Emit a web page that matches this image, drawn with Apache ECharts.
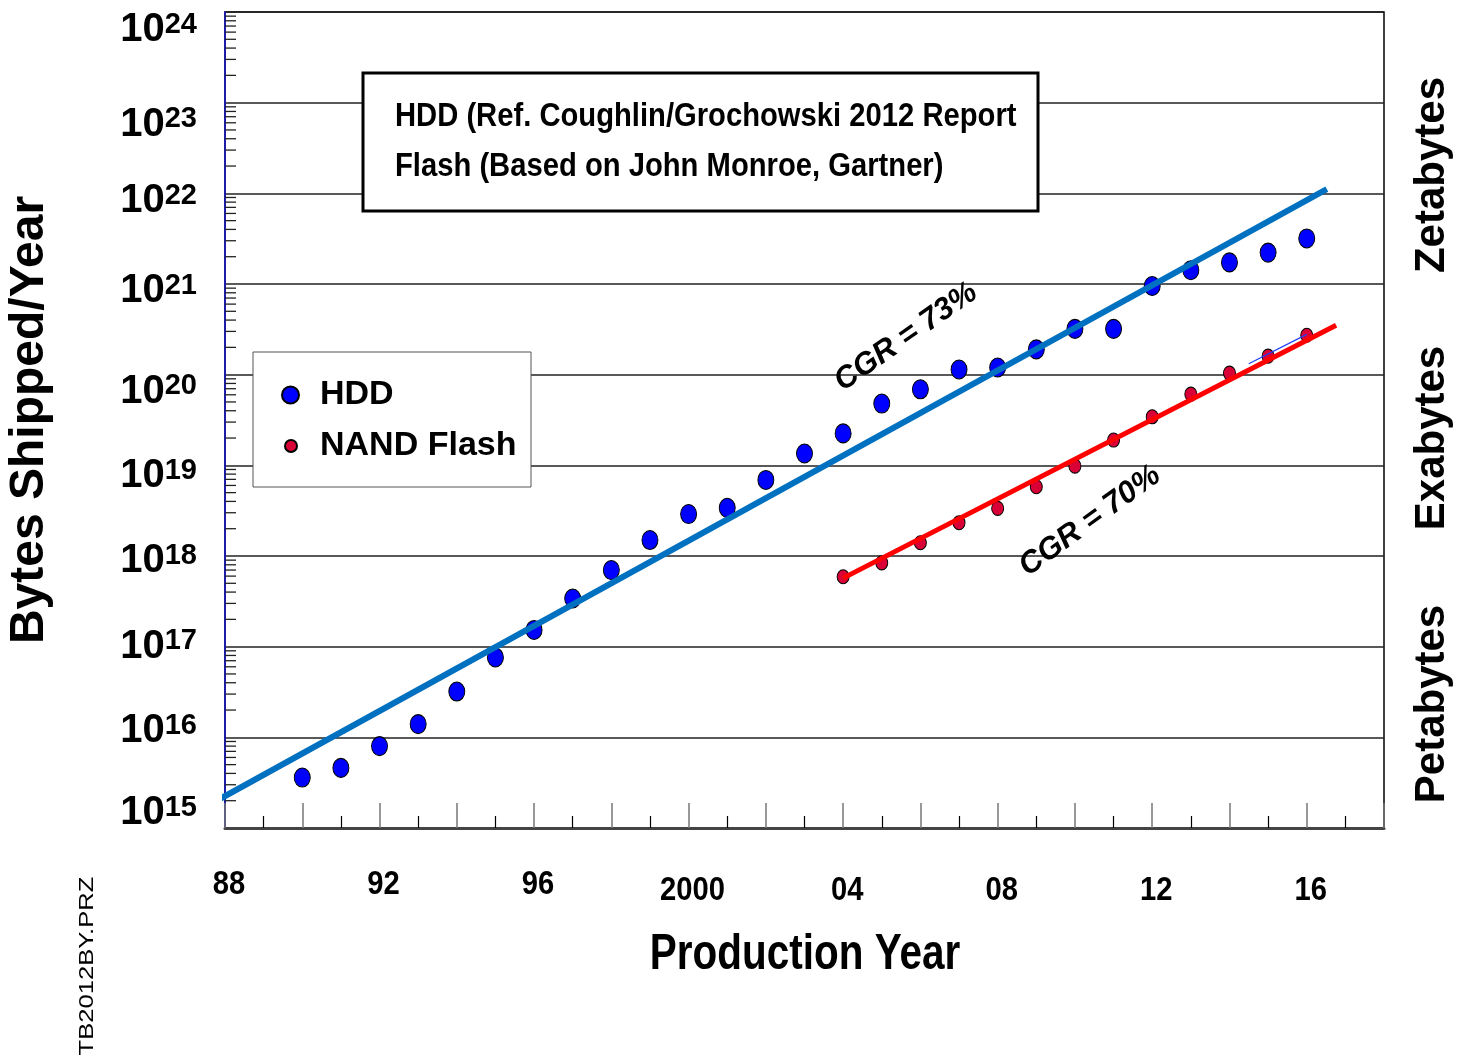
<!DOCTYPE html>
<html><head><meta charset="utf-8">
<script src="https://cdn.jsdelivr.net/npm/echarts@6/dist/echarts.min.js"></script>
<style>html,body{margin:0;padding:0;background:#fff}#c{width:1468px;height:1061px}</style>
</head><body><div id="c"></div>
<script>
// ---- data ----
const hddYears = [1990,1991,1992,1993,1994,1995,1996,1997,1998,1999,2000,2001,2002,2003,2004,2005,2006,2007,2008,2009,2010,2011,2012,2013,2014,2015,2016];
const hddBytes = [3.6e15,4.6e15,8e15,1.4e16,3.2e16,7.6e16,1.53e17,3.4e17,7e17,1.5e18,2.9e18,3.4e18,6.9e18,1.35e19,2.25e19,4.8e19,6.9e19,1.14e20,1.2e20,1.9e20,3.2e20,3.2e20,9.5e20,1.42e21,1.73e21,2.22e21,3.18e21];
const flashYears = [2004,2005,2006,2007,2008,2009,2010,2011,2012,2013,2014,2015,2016];
const flashBytes = [5.9e17,8.4e17,1.4e18,2.33e18,3.35e18,5.8e18,9.8e18,1.9e19,3.43e19,6.1e19,1.04e20,1.6e20,2.72e20];
const hddTrendYears = [1987.82, 2016.52];
const hddTrendBytes = [2.04e15, 1.11e22];
const hddTrendThinYears = [1987.82, 1997.4];
const hddTrendThinBytes = [1.94e15, 3.44e17];
const flashTrendYears = [2004, 2016.76];
const flashTrendBytes = [5.7e17, 3.5e20];
const flashTrendThinYears = [2014.5, 2016.0];
const flashTrendThinBytes = [1.32e20, 2.78e20];
const xLabelYears = [1988,1992,1996,2000,2004,2008,2012,2016];
const xLabelTexts = ['88','92','96','2000','04','08','12','16'];
const yDecades = [15,16,17,18,19,20,21,22,23,24];
const cgrHdd = 'CGR = 73%';
const cgrFlash = 'CGR = 70%';

const zip = (a, b) => a.map((v, i) => [v, b[i]]);
const minorVals = [];
for (let i = 0; i < yDecades.length - 1; i++) for (let m = 2; m <= 9; m++) minorVals.push([1988, m * Math.pow(10, yDecades[i])]);

const SANS = "'Liberation Sans', Arial, sans-serif";
const NARROW_SCALE = 0.885;

// y-label vertical nudges (px, downward) following the hand-placed labels of the original
const yLabelNudge = {15: -15, 16: -6, 17: 0, 18: 5, 19: 11, 20: 17, 21: 7, 22: 8, 23: 22, 24: 18};

const chart = echarts.init(document.getElementById('c'), null, {renderer: 'canvas'});
chart.setOption({
  animation: false,
  backgroundColor: '#fff',
  grid: {left: 225, right: 84, top: 12, bottom: 233, show: true, borderColor: '#000', borderWidth: 1.5, containLabel: false, outerBoundsMode: 'none'},
  xAxis: {
    type: 'value', min: 1988, max: 2018, interval: 2,
    axisLine: {show: true, onZero: false, lineStyle: {color: '#444', width: 3}},
    axisTick: {show: true, inside: true, length: 25, lineStyle: {color: '#777', width: 1.5}},
    minorTick: {show: true, splitNumber: 2, length: 12, lineStyle: {color: '#000', width: 1.2}},
    splitLine: {show: false},
    axisLabel: {show: false}
  },
  yAxis: {
    type: 'log', logBase: 10, min: 1e15, max: 1e24, interval: 1,
    name: 'Bytes Shipped/Year', nameLocation: 'middle', nameGap: 171,
    nameTextStyle: {fontFamily: SANS, fontWeight: 'bold', fontSize: 48, color: '#000'},
    axisLine: {show: true, lineStyle: {color: '#1c1ca8', width: 2}},
    axisTick: {show: false},
    splitLine: {show: true, lineStyle: {color: '#222', width: 1.5}},
    axisLabel: {show: false}
  },
  legend: [
    {data: ['HDD'], left: 281, top: 375, padding: 0, itemWidth: 17, itemHeight: 19, z: 20,
     textStyle: {fontFamily: SANS, fontWeight: 'bold', fontSize: 34, lineHeight: 40, color: '#000', padding: [0, 0, 0, 16]}},
    {data: ['NAND Flash'], left: 284, top: 426, padding: 0, itemWidth: 12, itemHeight: 14, z: 20,
     textStyle: {fontFamily: SANS, fontWeight: 'bold', fontSize: 34, lineHeight: 40, color: '#000', padding: [0, 0, 0, 18]}}
  ],
  graphic: [
    {type: 'rect', z: 10, shape: {x: 363, y: 73, width: 675, height: 138}, style: {fill: '#fff', stroke: '#000', lineWidth: 3}},
    {type: 'text', z: 11, x: 395, y: 117, scaleX: NARROW_SCALE, style: {text: 'HDD (Ref. Coughlin/Grochowski 2012 Report', fontFamily: SANS, fontWeight: 'bold', fontSize: 33, fill: '#000', textVerticalAlign: 'middle'}},
    {type: 'text', z: 11, x: 395, y: 167, scaleX: NARROW_SCALE, style: {text: 'Flash (Based on John Monroe, Gartner)', fontFamily: SANS, fontWeight: 'bold', fontSize: 33, fill: '#000', textVerticalAlign: 'middle'}},
    {type: 'rect', z: 10, shape: {x: 253, y: 352, width: 278, height: 135}, style: {fill: '#fff', stroke: '#555', lineWidth: 1}},
    {type: 'text', z: 11, x: 906, y: 337, rotation: 35 * Math.PI / 180, style: {text: cgrHdd, fontFamily: SANS, fontWeight: 'bold', fontStyle: 'italic', fontSize: 31, fill: '#000', textAlign: 'center', textVerticalAlign: 'middle'}},
    {type: 'text', z: 11, x: 1090, y: 521, rotation: 36 * Math.PI / 180, style: {text: cgrFlash, fontFamily: SANS, fontWeight: 'bold', fontStyle: 'italic', fontSize: 31, fill: '#000', textAlign: 'center', textVerticalAlign: 'middle'}},
    {type: 'text', z: 11, x: 1432, y: 175, rotation: Math.PI / 2, style: {text: 'Zetabytes', fontFamily: SANS, fontWeight: 'bold', fontSize: 42, fill: '#000', textAlign: 'center', textVerticalAlign: 'middle'}},
    {type: 'text', z: 11, x: 1432, y: 438, rotation: Math.PI / 2, style: {text: 'Exabytes', fontFamily: SANS, fontWeight: 'bold', fontSize: 42, fill: '#000', textAlign: 'center', textVerticalAlign: 'middle'}},
    {type: 'text', z: 11, x: 1432, y: 704, rotation: Math.PI / 2, style: {text: 'Petabytes', fontFamily: SANS, fontWeight: 'bold', fontSize: 42, fill: '#000', textAlign: 'center', textVerticalAlign: 'middle'}},
    {type: 'text', z: 11, x: 805, y: 955, scaleX: 0.81, style: {text: 'Production Year', fontFamily: SANS, fontWeight: 'bold', fontSize: 50, fill: '#000', textAlign: 'center', textVerticalAlign: 'middle'}},
    {type: 'text', z: 11, x: 87, y: 966, rotation: Math.PI / 2, scaleX: 1.22, style: {text: 'TB2012BY.PRZ', fontFamily: SANS, fontSize: 21, fill: '#000', textAlign: 'center', textVerticalAlign: 'middle'}}
  ],
  series: [
    {type: 'custom', name: 'minorTicks', silent: true, z: 3, clip: false,
     data: minorVals,
     renderItem: (params, api) => {
       const p = api.coord([api.value(0), api.value(1)]);
       return {type: 'line', shape: {x1: p[0], y1: p[1], x2: p[0] + 11, y2: p[1]}, style: {stroke: '#222', lineWidth: 1.3}};
     }},
    {type: 'custom', name: 'yLabels', silent: true, z: 3, clip: false,
     data: yDecades.map(e => [1988, Math.pow(10, e), e]),
     renderItem: (params, api) => {
       const p = api.coord([api.value(0), api.value(1)]);
       const e = api.value(2);
       return {type: 'text', x: p[0] - 28, y: p[1] + yLabelNudge[e],
         style: {text: '{b|10}{s|' + e + '}', textAlign: 'right', textVerticalAlign: 'middle',
           rich: {
             b: {fontFamily: SANS, fontWeight: 'bold', fontSize: 40, lineHeight: 40, fill: '#000', verticalAlign: 'middle'},
             s: {fontFamily: SANS, fontWeight: 'bold', fontSize: 29, lineHeight: 28, fill: '#000', verticalAlign: 'top'}
           }}};
     }},
    {type: 'custom', name: 'xLabels', silent: true, z: 3, clip: false,
     data: xLabelYears.map((y, i) => [y, 1e15, i]),
     renderItem: (params, api) => {
       const p = api.coord([api.value(0), api.value(1)]);
       const i = api.value(2);
       return {type: 'text', x: p[0] + 4, y: p[1] + (api.value(0) >= 2000 ? 63 : 57), scaleX: NARROW_SCALE,
         style: {text: xLabelTexts[i], fontFamily: SANS, fontWeight: 'bold', fontSize: 33, fill: '#000', textAlign: 'center', textVerticalAlign: 'middle'}};
     }},
    {type: 'scatter', name: 'HDD', data: zip(hddYears, hddBytes), symbol: 'circle', symbolSize: [16, 19], z: 4,
     itemStyle: {color: '#0000ff', borderColor: '#000', borderWidth: 1, opacity: 1}},
    {type: 'scatter', name: 'NAND Flash', data: zip(flashYears, flashBytes), symbol: 'circle', symbolSize: [12, 14], z: 4,
     itemStyle: {color: '#d80036', borderColor: '#000', borderWidth: 1, opacity: 1}},
    {type: 'line', name: 'hddTrendThin', data: zip(hddTrendThinYears, hddTrendThinBytes), showSymbol: false, symbol: 'none', clip: false, z: 5,
     lineStyle: {color: '#e0204a', width: 1.5}},
    {type: 'line', name: 'hddTrend', data: zip(hddTrendYears, hddTrendBytes), showSymbol: false, symbol: 'none', clip: false, z: 6,
     lineStyle: {color: '#0070c0', width: 6}},
    {type: 'line', name: 'flashTrend', data: zip(flashTrendYears, flashTrendBytes), showSymbol: false, symbol: 'none', clip: false, z: 6,
     lineStyle: {color: '#ff0000', width: 5}},
    {type: 'line', name: 'flashTrendThin', data: zip(flashTrendThinYears, flashTrendThinBytes), showSymbol: false, symbol: 'none', clip: false, z: 7,
     lineStyle: {color: '#2040ff', width: 1.2}}
  ]
});
</script></body></html>
